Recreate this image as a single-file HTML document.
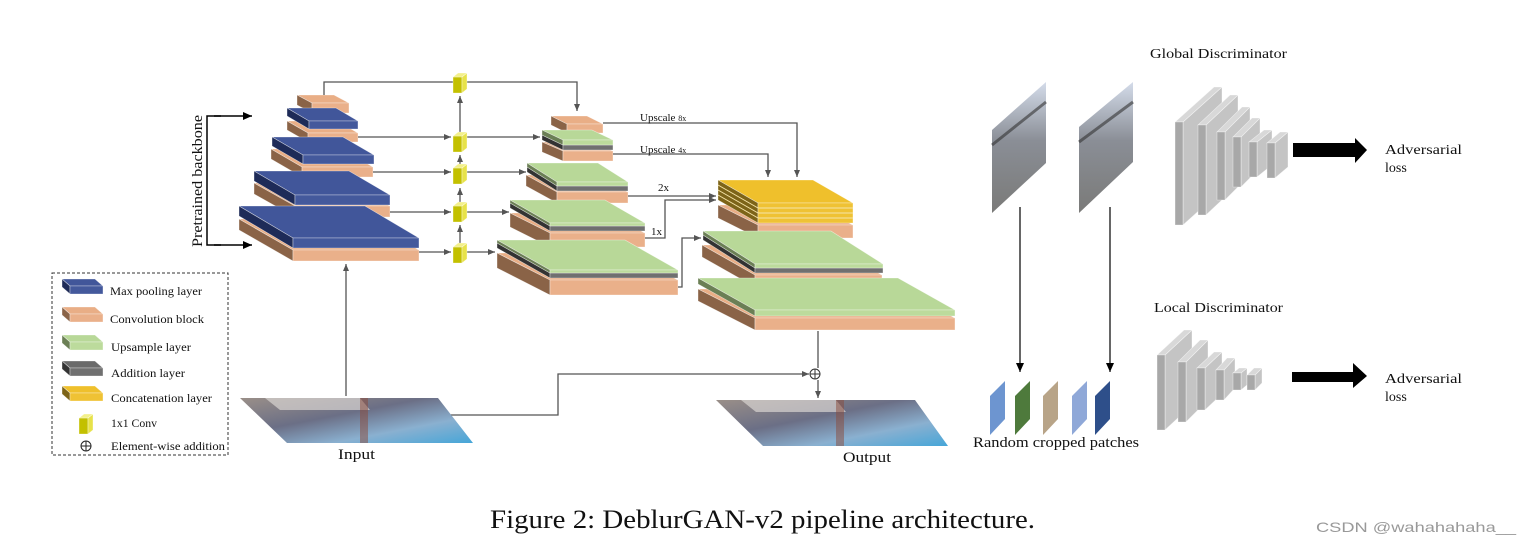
<!DOCTYPE html>
<html><head><meta charset="utf-8"><style>
html,body{margin:0;padding:0;background:#fff;width:1528px;height:544px;overflow:hidden}
svg{display:block}
text{font-family:"Liberation Serif",serif;fill:#111}
</style></head><body>
<svg id="s" width="1528" height="544" viewBox="0 0 1528 544" xmlns="http://www.w3.org/2000/svg">
<defs>
<marker id="a" markerWidth="8" markerHeight="8" refX="7" refY="4" orient="auto" markerUnits="userSpaceOnUse"><path d="M0,1 L7,4 L0,7 Z" fill="#555"/></marker>
<marker id="b" markerWidth="10" markerHeight="10" refX="9" refY="5" orient="auto" markerUnits="userSpaceOnUse"><path d="M0,1 L9,5 L0,9 Z" fill="#000"/></marker>
<linearGradient id="img1" x1="0" y1="0" x2="1" y2="1"><stop offset="0" stop-color="#9a8f88"/><stop offset="0.4" stop-color="#6b6f86"/><stop offset="0.7" stop-color="#8ab0d0"/><stop offset="1" stop-color="#46a6d8"/></linearGradient>
<linearGradient id="img2" x1="0" y1="0" x2="0" y2="1"><stop offset="0" stop-color="#d4dcea"/><stop offset="0.45" stop-color="#8a8e96"/><stop offset="1" stop-color="#7a7a78"/></linearGradient>
</defs>
<g id="g"></g>
<text x="0" y="0" font-size="15" textLength="132" lengthAdjust="spacingAndGlyphs" transform="translate(202,247) rotate(-90)">Pretrained backbone</text>
<text x="640" y="121" font-size="11">Upscale <tspan font-size="8">8x</tspan></text>
<text x="640" y="153" font-size="11">Upscale <tspan font-size="8">4x</tspan></text>
<text x="658" y="191" font-size="11">2x</text>
<text x="651" y="235" font-size="11">1x</text>
<text x="110" y="295" font-size="12" textLength="92" lengthAdjust="spacingAndGlyphs">Max pooling layer</text>
<text x="110" y="323" font-size="12" textLength="94" lengthAdjust="spacingAndGlyphs">Convolution block</text>
<text x="111" y="351" font-size="12" textLength="80" lengthAdjust="spacingAndGlyphs">Upsample layer</text>
<text x="111" y="377" font-size="12" textLength="74" lengthAdjust="spacingAndGlyphs">Addition layer</text>
<text x="111" y="402" font-size="12" textLength="101" lengthAdjust="spacingAndGlyphs">Concatenation layer</text>
<text x="111" y="427" font-size="12" textLength="46" lengthAdjust="spacingAndGlyphs">1x1 Conv</text>
<text x="111" y="450" font-size="12" textLength="114" lengthAdjust="spacingAndGlyphs">Element-wise addition</text>
<text x="338" y="459" font-size="15" textLength="37" lengthAdjust="spacingAndGlyphs">Input</text>
<text x="843" y="462" font-size="15" textLength="48" lengthAdjust="spacingAndGlyphs">Output</text>
<text x="973" y="447" font-size="15" textLength="166" lengthAdjust="spacingAndGlyphs">Random cropped patches</text>
<text x="1150" y="58" font-size="14" textLength="137" lengthAdjust="spacingAndGlyphs">Global Discriminator</text>
<text x="1154" y="312" font-size="14" textLength="129" lengthAdjust="spacingAndGlyphs">Local Discriminator</text>
<text x="1385" y="154" font-size="14" textLength="77" lengthAdjust="spacingAndGlyphs">Adversarial</text>
<text x="1385" y="172" font-size="14">loss</text>
<text x="1385" y="383" font-size="14" textLength="77" lengthAdjust="spacingAndGlyphs">Adversarial</text>
<text x="1385" y="401" font-size="14">loss</text>
<text x="490" y="528" font-size="26" textLength="545" lengthAdjust="spacingAndGlyphs">Figure 2: DeblurGAN-v2 pipeline architecture.</text>
<text x="1316" y="532" font-size="14" textLength="200" lengthAdjust="spacingAndGlyphs" style="font-family:'Liberation Sans',sans-serif;fill:#999">CSDN @wahahahaha__</text>
</svg>
<script>
var o='';
function P(pts,f){o+='<polygon points="'+pts.map(p=>p.join(',')).join(' ')+'" fill="'+f+'" stroke="#fff" stroke-width="0.6" stroke-opacity="0.6"/>';}
var C={b:['#41569a','#44599c','#1e2b58'],o:['#e9ae86','#eab08a','#8a6347'],g:['#b8d898','#bcdb9c','#6b7f55'],k:['#6a6a6a','#707070','#333'],y:['#efc02c','#efc234','#7d6418']};
function slab(x,y,w,dx,dy,t,c){c=C[c];
P([[x-dx,y-dy],[x+w-dx,y-dy],[x+w,y],[x,y]],c[0]);
P([[x-dx,y-dy],[x,y],[x,y+t],[x-dx,y-dy+t]],c[2]);
P([[x,y],[x+w,y],[x+w,y+t],[x,y+t]],c[1]);}
function L(d,m){o+='<path d="'+d+'" fill="none" stroke="#555" stroke-width="1.3"'+(m?' marker-end="url(#a)"':'')+'/>';}
[[312,103,37,15,8,10,'o'],[308,133,50,21,12,9,'o'],[309,121,49,22,13,8,'b'],[302,167,71,31,18,10,'o'],[303,155,71,31,18,9,'b'],
[295,206,95,41,23,11,'o'],[295,195,95,41,24,10,'b'],[293,250,126,54,31,11,'o'],[293,238,126,54,32,10,'b']].forEach(a=>slab(...a));
[[567,124,36,16,8,9,'o'],[563,151,50,21,9,10,'o'],[563,145,50,21,10,5,'k'],[563,140,50,21,10,5,'g'],
[557,192,71,31,17,11,'o'],[557,186,71,30,19,5,'k'],[557,182,71,30,19,4,'g'],
[550,233,95,40,20,14,'o'],[550,226,95,40,23,5,'k'],[550,223,95,40,23,3,'g'],
[550,280,128,53,27,15,'o'],[550,273,128,53,30,5,'k'],[550,270,128,53,30,3,'g']].forEach(a=>slab(...a));
slab(758,225,95,40,20,13,'o');slab(758,203,95,40,23,20,'y');
[208,213,218].forEach(yy=>{o+='<line x1="758" y1="'+yy+'" x2="853" y2="'+yy+'" stroke="#f6e4a8" stroke-width="1"/><line x1="718" y1="'+(yy-23)+'" x2="758" y2="'+yy+'" stroke="#f6e4a8" stroke-width="1"/>';});
slab(755,275,127,53,30,12,'o');slab(755,268,128,52,33,5,'k');slab(755,264,128,52,33,4,'g');
slab(755,318,200,57,29,12,'o');slab(755,310,200,57,32,6,'g');
L('M324,95 V82 H577 V111',1);
L('M460,243 V263',0);
[[243,225],[203,188],[164,155],[132,96]].forEach(a=>L('M460,'+a[0]+' V'+a[1],1));
L('M358,137 H451',1);L('M466,137 H540',1);
L('M373,172 H451',1);L('M466,172 H526',1);
L('M390,212 H451',1);L('M466,212 H509',1);
L('M419,252 H451',1);L('M466,252 H495',1);
L('M603,123 H797 V177',1);
L('M613,154 H768 V177',1);
L('M628,196 H716',1);
L('M645,238 H665 V200 H716',1);
L('M678,287 H682 V238 H701',1);
L('M346,396 V264',1);
L('M818,331 V368',0);L('M818,380 V398',1);
L('M448,415 H558 V374 H809',1);
o+='<circle cx="815" cy="374" r="5" fill="#fff" stroke="#333" stroke-width="1"/><path d="M810,374 H820 M815,369 V379" stroke="#333" stroke-width="1"/>';
function cube(x,y,h){P([[x,y],[x+9,y],[x+9,y+h],[x,y+h]],'#c3c000');P([[x+9,y],[x+14,y-4],[x+14,y+h-4],[x+9,y+h]],'#e7e24a');P([[x,y],[x+5,y-4],[x+14,y-4],[x+9,y]],'#f3f08a');}
[[453,77,16],[453,136,16],[453,168,16],[453,206,16],[453,247,16]].forEach(a=>cube(...a));
o+='<path d="M221,116 H207 V245 H221" fill="none" stroke="#000" stroke-width="1.5"/><path d="M214,116 H252" stroke="#000" stroke-width="1.5" marker-end="url(#b)"/><path d="M214,245 H252" stroke="#000" stroke-width="1.5" marker-end="url(#b)"/>';
o+='<rect x="52" y="273" width="176" height="182" fill="none" stroke="#333" stroke-width="1" stroke-dasharray="3,2"/>';
function lg(y,c){slab(70,y-4,33,8,7,8,c);}
lg(290,'b');lg(318,'o');lg(346,'g');lg(372,'k');lg(397,'y');
cube(79,418,16);
o+='<circle cx="86" cy="446" r="5" fill="#fff" stroke="#222"/><path d="M81,446 H91 M86,441 V451" stroke="#222"/>';
function img(x0,y0,x1,y1,xb0,xb1){o+='<polygon points="'+x0+','+y0+' '+x1+','+y0+' '+xb1+','+y1+' '+xb0+','+y1+'" fill="url(#img1)"/>';
o+='<polygon points="'+(x0+25)+','+y0+' '+(x0+120)+','+y0+' '+(x0+130)+','+(y0+12)+' '+(x0+40)+','+(y0+12)+'" fill="#d8d4d2" opacity="0.7"/>';
o+='<rect x="'+(x0+120)+'" y="'+y0+'" width="8" height="'+(y1-y0)+'" fill="#8a4a3a" opacity="0.5"/>';}
img(240,398,438,443,287,473);
img(716,400,915,446,763,948);
function rimg(x0,x1,yt,yb,yl,yl2){o+='<polygon points="'+x1+','+yt+' '+x1+','+yb+' '+x0+','+yl2+' '+x0+','+yl+'" fill="url(#img2)"/>';
o+='<line x1="'+x0+'" y1="'+(yl+15)+'" x2="'+x1+'" y2="'+(yt+20)+'" stroke="#333" stroke-width="3" opacity="0.6"/>';}
rimg(992,1046,82,163,130,213);rimg(1079,1133,82,162,127,213);
o+='<path d="M1020,207 V372" stroke="#000" stroke-width="1.2" marker-end="url(#b)"/><path d="M1110,207 V372" stroke="#000" stroke-width="1.2" marker-end="url(#b)"/>';
[[990,'#6d95d0'],[1015,'#4e7a3c'],[1043,'#b8a488'],[1072,'#8fa8d8'],[1095,'#2e4f8a']].forEach(a=>{o+='<polygon points="'+(a[0]+15)+',381 '+(a[0]+15)+',419 '+a[0]+',435 '+a[0]+',396" fill="'+a[1]+'"/>';});
function blk(fx,fy,fh,bx,by){var fw=8;var dx=bx-fx-fw,dy=by-fy;
P([[fx+fw,fy],[bx,by],[bx,by+fh],[fx+fw,fy+fh]],'#c4c4c4');
P([[fx,fy],[fx+dx,fy+dy],[bx,by],[fx+fw,fy]],'#d8d8d8');
P([[fx,fy],[fx+fw,fy],[fx+fw,fy+fh],[fx,fy+fh]],'#a8a8a8');}
[[1175,122,103,1222,87],[1198,125,90,1238,95],[1217,132,68,1250,107],[1233,137,50,1260,118],[1249,142,35,1272,130],[1267,143,35,1288,132]].forEach(a=>blk(...a));
[[1157,355,75,1192,330],[1178,362,60,1208,340],[1197,368,42,1222,352],[1216,370,30,1235,358],[1233,373,17,1247,368],[1247,375,15,1262,368]].forEach(a=>blk(...a));
o+='<polygon points="1293,143 1355,143 1355,138 1367,150 1355,163 1355,157 1293,157" fill="#000"/>';
o+='<polygon points="1292,372 1353,372 1353,363 1367,376 1353,388 1353,382 1292,382" fill="#000"/>';
document.getElementById('g').innerHTML=o;
</script>
</body></html>
